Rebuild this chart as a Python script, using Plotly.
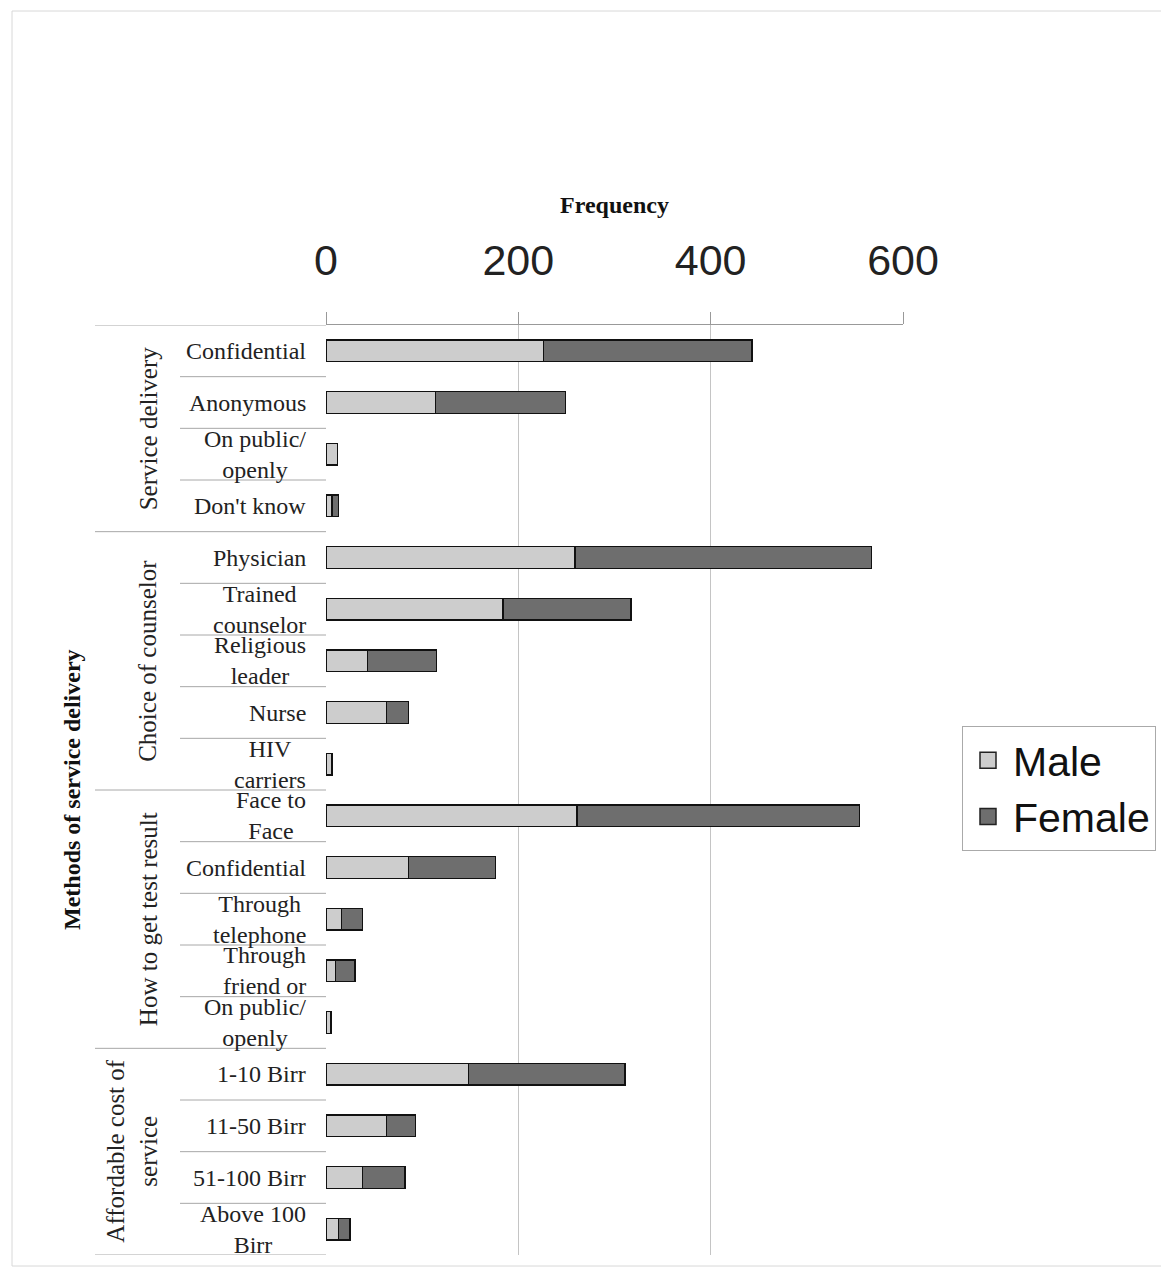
import plotly.graph_objects as go

# ---------------- data ----------------
groups = ["Service delivery", "Choice of counselor", "How to get test result",
          "Affordable cost of<br>service"]
group_sizes = [4, 5, 5, 4]
categories = [
    "Confidential", "Anonymous", "On public/<br>openly", "Don't know",
    "Physician", "Trained<br>counselor", "Religious<br>leader", "Nurse", "HIV<br>carriers",
    "Face to<br>Face", "Confidential", "Through<br>telephone", "Through<br>friend or", "On public/<br>openly",
    "1-10 Birr", "11-50 Birr", "51-100 Birr", "Above 100<br>Birr",
]
male = [226, 114, 12, 6,
        259, 184, 43, 63, 6,
        261, 86, 16, 10, 5,
        148, 63, 38, 13]
female = [217, 135, 0, 7,
          308, 133, 72, 23, 0,
          294, 90, 22, 20, 0,
          163, 30, 44, 12]
series_names = ["Male", "Female"]
x_ticks = [0, 200, 400, 600]
x_title = "Frequency"
y_title = "Methods of service delivery"

# ---------------- layout constants (reference pixel coords) ----------------
OFF = 8                      # page body margin
W, H = 1169 - OFF, 1271 - OFF
PL, PR, PT, PB = 326, 903, 325, 1255   # plot area in reference pixels
ML, MT = PL - OFF, PT - OFF
MR, MB = W - (PR - OFF), H - (PB - OFF)
PW, PH = PR - PL, PB - PT

MALE_C, FEMALE_C = "#cdcdcd", "#6e6e6e"


def px(xpix):
    return (xpix - PL) / PW


def py(ypix):
    return (PB - ypix) / PH


idx = list(range(len(categories)))

fig = go.Figure()
for name, vals, col in [(series_names[0], male, MALE_C), (series_names[1], female, FEMALE_C)]:
    fig.add_trace(go.Bar(
        y=idx, x=vals, name=name, orientation="h", width=0.42, showlegend=False,
        marker=dict(color=col, line=dict(color="#111111", width=1.5)),
    ))
    # legend proxy
    fig.add_trace(go.Scatter(
        x=[None], y=[None], mode="markers", name=name, showlegend=True,
        marker=dict(symbol="square", size=16, color=col, line=dict(color="#222222", width=1.5)),
    ))

annotations = []
shapes = []
serif = "Liberation Serif, Times New Roman, serif"
LBL = 24

# category labels
for i, c in enumerate(categories):
    annotations.append(dict(
        x=px(308), xref="paper", y=i, yref="y", text=c, showarrow=False,
        xanchor="right", yanchor="middle", align="center",
        font=dict(family=serif, size=LBL, color="#222222"),
    ))

# inner dividers and group labels / dividers
start = 0
bounds = [-0.5]
for g, n in zip(groups, group_sizes):
    for k in range(start, start + n - 1):
        shapes.append(dict(type="line", xref="paper", yref="y",
                           x0=px(180), x1=0, y0=k + 0.5, y1=k + 0.5,
                           line=dict(color="#a8a8a8", width=1)))
    center = start + (n - 1) / 2
    xpos = 132 if "<br>" in g else 148
    annotations.append(dict(
        x=px(xpos), xref="paper", y=center, yref="y", text=g, showarrow=False,
        textangle=-90, xanchor="center", yanchor="middle", align="center",
        font=dict(family=serif, size=25, color="#222222"),
    ))
    start += n
    bounds.append(start - 0.5)

for b in bounds:
    shapes.append(dict(type="line", xref="paper", yref="y",
                       x0=px(95), x1=0, y0=b, y1=b,
                       line=dict(color="#a8a8a8", width=1)))

# outer y title
annotations.append(dict(
    x=px(72), xref="paper", y=(len(categories) - 1) / 2, yref="y", text="<b>" + y_title + "</b>",
    showarrow=False, textangle=-90, xanchor="center", yanchor="middle",
    font=dict(family=serif, size=24, color="#111111"),
))

# faint scan border
shapes.append(dict(type="rect", xref="paper", yref="paper",
                   x0=px(12), x1=px(1167), y0=py(1266), y1=py(11),
                   line=dict(color="#d8d8d8", width=1)))

fig.update_layout(
    width=W, height=H,
    margin=dict(l=ML, r=MR, t=MT, b=MB, pad=0),
    paper_bgcolor="white", plot_bgcolor="white",
    barmode="stack",
    annotations=annotations, shapes=shapes,
    xaxis=dict(
        side="top", range=[0, 600], tickvals=x_ticks, ticktext=[str(v) for v in x_ticks],
        tickfont=dict(family="Liberation Sans, Arial, sans-serif", size=43, color="#222222"),
        ticks="outside", ticklen=12, tickcolor="#999999", ticklabelstandoff=20,
        showline=True, linecolor="#999999", linewidth=1,
        showgrid=True, gridcolor="#c4c4c4", gridwidth=1, zeroline=False,
        title=dict(text="<b>" + x_title + "</b>", standoff=15,
                   font=dict(family=serif, size=24, color="#111111")),
        fixedrange=True,
    ),
    yaxis=dict(
        range=[len(categories) - 0.5, -0.5], showticklabels=False, ticks="",
        showgrid=False, zeroline=False, showline=False, fixedrange=True,
    ),
    legend=dict(
        x=px(962), xanchor="left", y=py(726), yanchor="top",
        font=dict(family="Liberation Sans, Arial, sans-serif", size=41, color="#111111"),
        bordercolor="#aaaaaa", borderwidth=1, bgcolor="white",
        traceorder="normal", itemsizing="trace", itemwidth=40,
    ),
    showlegend=True,
)

fig.write_html("out.html")
